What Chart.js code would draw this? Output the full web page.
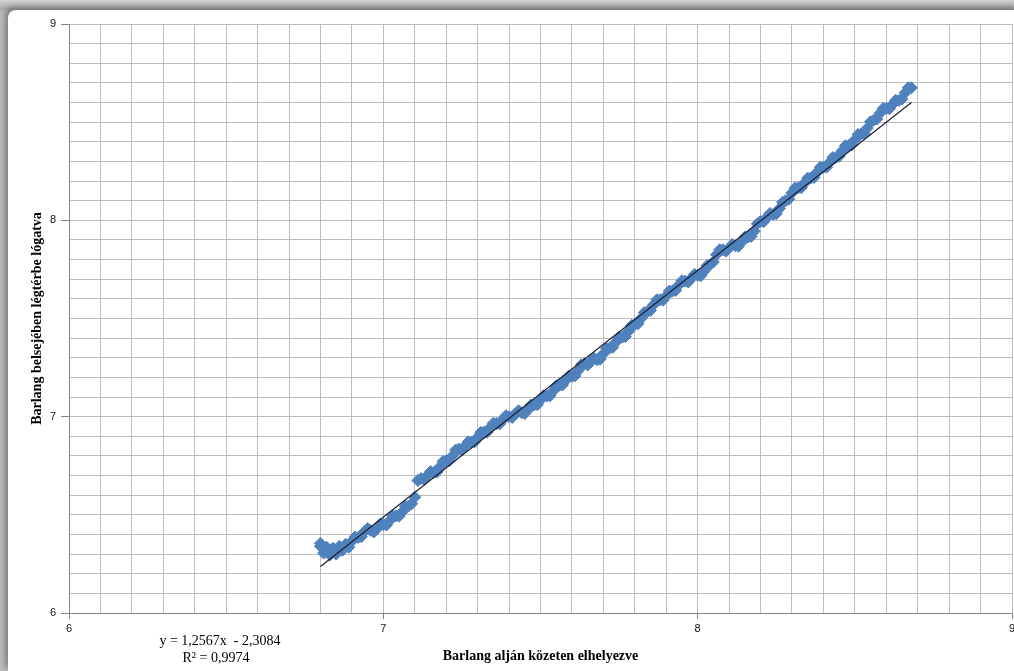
<!DOCTYPE html>
<html>
<head>
<meta charset="utf-8">
<script src="https://cdn.jsdelivr.net/npm/chart.js@4/dist/chart.umd.min.js"></script>
<style>
  html, body { margin: 0; padding: 0; }
  body { width: 1014px; height: 671px; overflow: hidden; background: linear-gradient(#d4d4d4, #a8a8a8 10px, #bdbdbd 10px); position: relative; }
  #panel { position: absolute; left: 8px; top: 10px; width: 1011px; height: 661px; background: #fff;
           border-top-left-radius: 8px; box-shadow: -3px -3px 6px rgba(0,0,0,0.35); }
  canvas { display: block; }
</style>
</head>
<body>
<div id="panel"><canvas id="grafikon" width="1011" height="661"></canvas></div>
<script>
// mért pontok (x: közeten, y: légtérben)
const xVals = [6.80, 6.82, 6.84, 6.86, 6.88, 6.90, 6.92, 6.94, 6.96, 6.98,
  7.00, 7.02, 7.04, 7.06, 7.08, 7.10, 7.12, 7.14, 7.16, 7.18,
  7.20, 7.22, 7.24, 7.26, 7.28, 7.30, 7.32, 7.34, 7.36, 7.38,
  7.40, 7.42, 7.44, 7.46, 7.48, 7.50, 7.52, 7.54, 7.56, 7.58,
  7.60, 7.62, 7.64, 7.66, 7.68, 7.70, 7.72, 7.74, 7.76, 7.78,
  7.80, 7.82, 7.84, 7.86, 7.88, 7.90, 7.92, 7.94, 7.96, 7.98,
  8.00, 8.02, 8.04, 8.06, 8.08, 8.10, 8.12, 8.14, 8.16, 8.18,
  8.20, 8.22, 8.24, 8.26, 8.28, 8.30, 8.32, 8.34, 8.36, 8.38,
  8.40, 8.42, 8.44, 8.46, 8.48, 8.50, 8.52, 8.54, 8.56, 8.58,
  8.60, 8.62, 8.64, 8.66, 8.68,
  6.81, 6.83, 6.85, 6.87, 6.89, 6.80];
const yVals = [6.340, 6.335, 6.330, 6.340, 6.350, 6.365, 6.385, 6.415, 6.420, 6.430,
  6.450, 6.470, 6.495, 6.515, 6.545, 6.590, 6.685, 6.700, 6.715, 6.745,
  6.775, 6.800, 6.835, 6.850, 6.870, 6.895, 6.920, 6.945, 6.965, 6.985,
  7.000, 7.015, 7.020, 7.035, 7.060, 7.085, 7.105, 7.130, 7.160, 7.185,
  7.205, 7.235, 7.270, 7.280, 7.290, 7.320, 7.350, 7.380, 7.405, 7.435,
  7.470, 7.500, 7.535, 7.570, 7.595, 7.615, 7.640, 7.670, 7.690, 7.705,
  7.720, 7.740, 7.775, 7.825, 7.850, 7.860, 7.870, 7.890, 7.915, 7.945,
  7.995, 8.015, 8.030, 8.060, 8.100, 8.140, 8.165, 8.190, 8.215, 8.245,
  8.270, 8.295, 8.320, 8.355, 8.380, 8.410, 8.440, 8.470, 8.510, 8.545,
  8.570, 8.590, 8.610, 8.650, 8.675,
  6.305, 6.295, 6.300, 6.320, 6.335, 6.355];

// közbülső mérések
const xVals2 = [6.91, 6.93, 6.95, 6.97, 6.99, 7.01, 7.03, 7.05, 7.07, 7.09,
  7.11, 7.13, 7.15, 7.17, 7.19, 7.21, 7.23, 7.25, 7.27, 7.29,
  7.31, 7.33, 7.35, 7.37, 7.39, 7.41, 7.43, 7.45, 7.47, 7.49,
  7.51, 7.53, 7.55, 7.57, 7.59, 7.61, 7.63, 7.65, 7.67, 7.69,
  7.71, 7.73, 7.75, 7.77, 7.79, 7.81, 7.83, 7.85, 7.87, 7.89,
  7.91, 7.93, 7.95, 7.97, 7.99, 8.01, 8.03, 8.05, 8.07, 8.09,
  8.11, 8.13, 8.15, 8.17, 8.19, 8.21, 8.23, 8.25, 8.27, 8.29,
  8.31, 8.33, 8.35, 8.37, 8.39, 8.41, 8.43, 8.45, 8.47, 8.49,
  8.51, 8.53, 8.55, 8.57, 8.59, 8.61, 8.63, 8.65, 8.67];
const yVals2 = [6.387, 6.388, 6.430, 6.413, 6.452, 6.448, 6.495, 6.493, 6.542, 6.556,
  6.675, 6.681, 6.720, 6.718, 6.772, 6.776, 6.830, 6.831, 6.872, 6.871,
  6.920, 6.921, 6.967, 6.963, 7.005, 6.996, 7.030, 7.016, 7.060, 7.061,
  7.107, 7.106, 7.157, 7.161, 7.207, 7.208, 7.265, 7.263, 7.297, 7.293,
  7.347, 7.353, 7.405, 7.408, 7.465, 7.473, 7.530, 7.541, 7.595, 7.593,
  7.640, 7.643, 7.692, 7.686, 7.725, 7.718, 7.770, 7.788, 7.850, 7.843,
  7.877, 7.868, 7.915, 7.918, 7.982, 7.993, 8.035, 8.033, 8.092, 8.108,
  8.165, 8.166, 8.215, 8.218, 8.270, 8.271, 8.320, 8.326, 8.380, 8.383,
  8.437, 8.443, 8.502, 8.516, 8.570, 8.568, 8.612, 8.618, 8.675];

// lineáris trendvonal
const trendSlope = 1.2567;
const trendIntercept = -2.3084;
const eqLines = ['y = 1,2567x  - 2,3084', 'R\u00b2 = 0,9974'];

const xTitle = 'Barlang alján közeten elhelyezve';
const yTitle = 'Barlang belsejében légtérbe lógatva';

const allX = xVals.concat(xVals2);
const allY = yVals.concat(yVals2);
const pontok = allX.map((x, i) => ({ x: x, y: allY[i] }));
const xMin = Math.min(...allX), xMax = Math.max(...allX);
const trend = [xMin, xMax].map(x => ({ x: x, y: trendSlope * x + trendIntercept }));

function isWhole(v) { return Math.abs(v - Math.round(v)) < 1e-6; }

function noPad(s) {
  s.paddingLeft = 0; s.paddingRight = 0; s.paddingTop = 0; s.paddingBottom = 0;
}

const egyenlet = {
  id: 'egyenlet',
  afterDraw(chart) {
    const c = chart.ctx;
    c.save();
    c.font = '14px "Liberation Serif", "Times New Roman", serif';
    c.fillStyle = '#000';
    c.textAlign = 'center';
    c.textBaseline = 'middle';
    c.fillText(eqLines[0], 212, 631);
    c.fillText(eqLines[1], 208, 648);
    c.restore();
  }
};

const tickFont = { family: '"Liberation Sans", Arial, sans-serif', size: 11 };
const titleFont = { family: '"Liberation Serif", "Times New Roman", serif', size: 14, weight: 'bold' };

new Chart(document.getElementById('grafikon'), {
  type: 'scatter',
  data: {
    datasets: [
      {
        label: 'mért',
        data: pontok,
        pointStyle: 'rectRot',
        pointRadius: 6,
        backgroundColor: '#4F81BD',
        borderColor: '#4F81BD',
        borderWidth: 1,
        order: 2
      },
      {
        type: 'line',
        label: 'trend',
        data: trend,
        borderColor: '#1b1f2e',
        borderWidth: 1.2,
        pointRadius: 0,
        fill: false,
        order: 1
      }
    ]
  },
  options: {
    responsive: false,
    animation: false,
    layout: { padding: { top: 14, right: 3, left: 0, bottom: 0 } },
    plugins: { legend: { display: false }, tooltip: { enabled: false } },
    scales: {
      x: {
        type: 'linear', min: 6, max: 9,
        afterFit: s => { s.height = 58; noPad(s); },
        ticks: {
          stepSize: 0.1, autoSkip: false, maxTicksLimit: 100, maxRotation: 0,
          color: '#111', font: tickFont, padding: 3,
          callback: v => isWhole(v) ? Math.round(v) : ''
        },
        grid: {
          color: '#bdbdbd', lineWidth: 1, tickLength: 6,
          tickColor: ctx => (ctx.tick && isWhole(ctx.tick.value)) ? '#868686' : 'rgba(0,0,0,0)'
        },
        border: { color: '#868686' },
        title: { display: true, text: xTitle, font: titleFont, color: '#000', padding: { top: 0, bottom: 6 } }
      },
      y: {
        type: 'linear', min: 6, max: 9,
        afterFit: s => { s.width = 61; noPad(s); },
        ticks: {
          stepSize: 0.1, autoSkip: false, maxTicksLimit: 100,
          color: '#111', font: tickFont, padding: 5,
          callback: v => isWhole(v) ? Math.round(v) : ''
        },
        grid: {
          color: '#bdbdbd', lineWidth: 1, tickLength: 8,
          tickColor: ctx => (ctx.tick && isWhole(ctx.tick.value)) ? '#868686' : 'rgba(0,0,0,0)'
        },
        border: { color: '#868686' },
        title: { display: true, text: yTitle, font: titleFont, color: '#000', padding: { top: 21, bottom: 0 } }
      }
    }
  },
  plugins: [egyenlet]
});
</script>
</body>
</html>
